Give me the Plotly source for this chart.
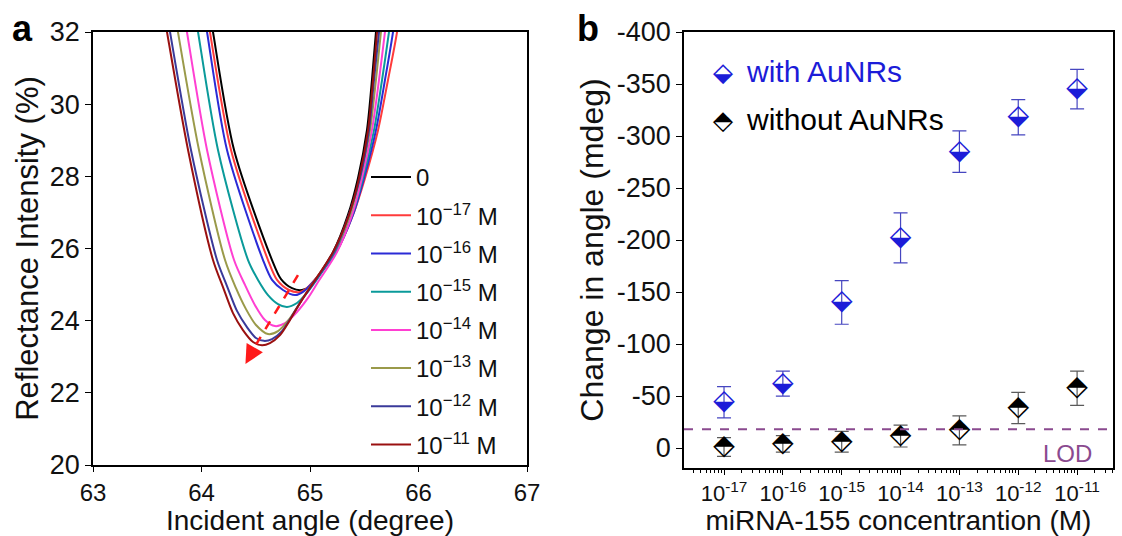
import plotly.graph_objects as go

# ---------------- Panel a data: SPR reflectance curves (angle in degree, reflectance in %) ----------------
series_names = ["0", "10<sup>−17</sup> M", "10<sup>−16</sup> M", "10<sup>−15</sup> M",
                "10<sup>−14</sup> M", "10<sup>−13</sup> M", "10<sup>−12</sup> M", "10<sup>−11</sup> M"]
series_colors = ["#000000", "#ff3b3b", "#2b2bd6", "#0a9a9a", "#ff3fd2", "#9a9a4a", "#3a3a9a", "#9a1010"]

ang_0 = [64.078, 64.106, 64.300, 64.650, 64.733, 64.834, 64.926, 65.000,
         65.212, 65.350, 65.442, 65.525, 65.571, 65.608, 65.627]
ref_0 = [32.50, 32.00, 28.73, 25.68, 25.15, 24.90, 24.85, 24.96,
         25.90, 26.93, 27.95, 29.28, 30.67, 32.00, 32.50]

ang_17 = [64.051, 64.078, 64.272, 64.613, 64.696, 64.806, 64.899, 64.963,
          65.240, 65.396, 65.507, 65.627, 65.719, 65.802, 65.820]
ref_17 = [32.50, 32.00, 28.73, 25.68, 25.13, 24.85, 24.79, 24.88,
          25.90, 26.93, 27.95, 29.28, 30.67, 32.00, 32.50]

ang_16 = [64.023, 64.051, 64.235, 64.567, 64.650, 64.751, 64.862, 64.945,
          65.240, 65.396, 65.498, 65.608, 65.691, 65.765, 65.783]
ref_16 = [32.50, 32.00, 28.73, 25.68, 25.13, 24.85, 24.71, 24.82,
          25.90, 26.93, 27.95, 29.28, 30.67, 32.00, 32.50]

ang_15 = [63.940, 63.968, 64.152, 64.429, 64.521, 64.613, 64.705, 64.788, 64.880, 64.963,
          65.230, 65.387, 65.488, 65.590, 65.664, 65.728, 65.747]
ref_15 = [32.50, 32.00, 28.73, 25.68, 25.13, 24.71, 24.46, 24.38, 24.49, 24.74,
          25.90, 26.93, 27.95, 29.28, 30.67, 32.00, 32.50]

ang_14 = [63.839, 63.866, 64.051, 64.300, 64.401, 64.493, 64.585, 64.677, 64.770, 64.880, 64.982, 65.074,
          65.249, 65.387, 65.479, 65.571, 65.636, 65.691, 65.710]
ref_14 = [32.50, 32.00, 28.73, 25.68, 24.99, 24.43, 24.02, 23.85, 23.93, 24.24, 24.63, 25.07,
          25.90, 26.93, 27.95, 29.28, 30.67, 32.00, 32.50]

ang_13 = [63.756, 63.783, 63.977, 64.217, 64.318, 64.410, 64.502, 64.613, 64.705, 64.816, 64.908, 64.982,
          65.221, 65.369, 65.461, 65.553, 65.608, 65.654, 65.673]
ref_13 = [32.50, 32.00, 28.73, 25.68, 24.90, 24.32, 23.88, 23.63, 23.71, 24.07, 24.49, 24.85,
          25.90, 26.93, 27.95, 29.28, 30.67, 32.00, 32.50]

ang_12 = [63.682, 63.710, 63.903, 64.143, 64.235, 64.327, 64.419, 64.502, 64.576, 64.650, 64.742, 64.834,
          64.917, 64.982, 65.221, 65.359, 65.461, 65.544, 65.590, 65.636, 65.654]
ref_12 = [32.50, 32.00, 28.73, 25.68, 24.96, 24.27, 23.82, 23.52, 23.44, 23.49, 23.71, 24.13,
          24.54, 24.82, 25.90, 26.93, 27.95, 29.28, 30.67, 32.00, 32.50]

ang_11 = [63.654, 63.682, 63.876, 64.106, 64.198, 64.290, 64.382, 64.475, 64.558, 64.631, 64.724, 64.816,
          64.908, 64.972, 65.212, 65.359, 65.452, 65.535, 65.581, 65.618, 65.636]
ref_11 = [32.50, 32.00, 28.73, 25.68, 24.93, 24.21, 23.74, 23.41, 23.32, 23.38, 23.60, 24.02,
          24.49, 24.79, 25.90, 26.93, 27.95, 29.28, 30.67, 32.00, 32.50]

curve_angles = [ang_0, ang_17, ang_16, ang_15, ang_14, ang_13, ang_12, ang_11]
curve_refl = [ref_0, ref_17, ref_16, ref_15, ref_14, ref_13, ref_12, ref_11]

# red dashed trend arrow (angle, reflectance)
arrow_start = (64.889, 25.26)
arrow_dash_end = (64.505, 23.35)
arrow_tip = (64.405, 22.80)

# ---------------- Panel b data: change in angle (mdeg) ----------------
conc = [1e-17, 1e-16, 1e-15, 1e-14, 1e-13, 1e-12, 1e-11]
with_aunrs = [-44, -62, -140, -202, -285, -318, -345]
with_err = [15, 12, 21, 24, 20, 17, 19]
without_aunrs = [-1, -4, -6, -11.5, -17, -38.5, -57.5]
without_err = [9, 8, 10, 10.5, 14, 15, 16.5]
lod_value = -18

a_xticks = [63, 64, 65, 66, 67]
a_yticks = [20, 22, 24, 26, 28, 30, 32]
b_yticks = [-400, -350, -300, -250, -200, -150, -100, -50, 0]
b_yticktext = ["-400", "-350", "-300", "-250", "-200", "-150", "-100", "-50", "0"]
b_xtickvals = conc
b_xticktext = ["10<sup>-17</sup>", "10<sup>-16</sup>", "10<sup>-15</sup>", "10<sup>-14</sup>",
               "10<sup>-13</sup>", "10<sup>-12</sup>", "10<sup>-11</sup>"]
b_minor = [k * 10.0 ** e for e in range(-18, -10) for k in range(2, 10)]

FONT = "Liberation Sans, Arial, Helvetica, sans-serif"
W, H = 1122, 536
BLUE = "#1c1cd8"
PURPLE = "#8a4a8f"

fig = go.Figure()

for i, (xs, ys) in enumerate(zip(curve_angles, curve_refl)):
    fig.add_trace(go.Scatter(
        x=xs, y=ys, mode="lines", name=series_names[i],
        line=dict(color=series_colors[i], width=2, shape="spline", smoothing=0.8),
        legendgroup=f"g{i}", xaxis="x", yaxis="y", showlegend=True,
    ))

# Panel b: error bars + half-filled diamond glyphs
fig.add_trace(go.Scatter(
    x=conc, y=with_aunrs, mode="text", text=["⬙"] * len(conc),
    textfont=dict(color=BLUE, size=28, family="DejaVu Sans"),
    textposition="middle center",
    error_y=dict(type="data", array=with_err, visible=True, color="#4646c0", thickness=1.2, width=7),
    xaxis="x2", yaxis="y2", showlegend=False,
))
fig.add_trace(go.Scatter(
    x=conc, y=without_aunrs, mode="text", text=["⬘"] * len(conc),
    textfont=dict(color="#000000", size=28, family="DejaVu Sans"),
    textposition="middle center",
    error_y=dict(type="data", array=without_err, visible=True, color="#5a5a5a", thickness=1.2, width=7),
    xaxis="x2", yaxis="y2", showlegend=False,
))

def ax_common(tick_size, ticklen=6):
    return dict(showline=True, linecolor="black", linewidth=1.5, mirror=True,
                ticks="outside", ticklen=ticklen, tickwidth=1.2, tickcolor="black",
                showgrid=False, zeroline=False, automargin=False,
                tickfont=dict(family=FONT, size=tick_size, color="#111"))

def label(text, x, y, size, color="black", family=FONT, xanchor="center"):
    return dict(text=text, x=x / W, y=1 - y / H, xref="paper", yref="paper", showarrow=False,
                xanchor=xanchor, yanchor="middle", font=dict(size=size, family=family, color=color))

fig.update_layout(
    width=W, height=H,
    margin=dict(l=0, r=0, t=0, b=0, autoexpand=False),
    paper_bgcolor="white", plot_bgcolor="white",
    font=dict(family=FONT, color="#111"),
    xaxis=dict(domain=[93 / W, 527 / W], range=[63, 67], tickvals=a_xticks, anchor="y",
               title=dict(text="Incident angle (degree)", font=dict(size=28, family=FONT), standoff=6),
               **ax_common(24, 5)),
    yaxis=dict(domain=[1 - 465 / H, 1 - 32 / H], range=[20, 32], tickvals=a_yticks, anchor="x",
               title=dict(text="Reflectance Intensity (%)", font=dict(size=31, family=FONT), standoff=2),
               **ax_common(27)),
    xaxis2=dict(domain=[684 / W, 1113 / W], type="log", range=[-17.68, -10.39],
                tickvals=b_xtickvals, ticktext=b_xticktext, anchor="y2",
                minor=dict(tickvals=b_minor, ticks="outside", ticklen=3.5, tickwidth=1, tickcolor="black"),
                title=dict(text="miRNA-155 concentrantion (M)", font=dict(size=28, family=FONT), standoff=6),
                **ax_common(22, 5)),
    yaxis2=dict(domain=[1 - 468 / H, 1 - 32 / H], range=[19.2, -400], tickvals=b_yticks,
                ticktext=b_yticktext, anchor="x2",
                title=dict(text="Change in angle (mdeg)", font=dict(size=32, family=FONT), standoff=4),
                **ax_common(27)),
    legend=dict(x=366 / W, y=1 - 155 / H, xanchor="left", yanchor="top",
                bgcolor="rgba(0,0,0,0)", borderwidth=0,
                font=dict(size=24, family=FONT, color="#111"),
                traceorder="grouped", tracegroupgap=4, itemwidth=40),
    shapes=[
        dict(type="line", xref="x2 domain", yref="y2", x0=0, x1=1, y0=lod_value, y1=lod_value,
             line=dict(color=PURPLE, width=2, dash="dash")),
        dict(type="line", xref="x", yref="y", x0=arrow_start[0], y0=arrow_start[1],
             x1=arrow_dash_end[0], y1=arrow_dash_end[1],
             line=dict(color="#ff1a1a", width=2.5, dash="dash")),
    ],
    annotations=[
        dict(x=arrow_tip[0], y=arrow_tip[1], xref="x", yref="y", ax=8, ay=-14,
             showarrow=True, arrowhead=2, arrowsize=1.5, arrowwidth=2.5, arrowcolor="#ff1a1a", text=""),
        label("<b>a</b>", 22, 29, 36),
        label("<b>b</b>", 588, 29, 36),
        dict(text="LOD", x=0.955, y=-10, xref="x2 domain", yref="y2", xanchor="right", yanchor="top",
             showarrow=False, font=dict(size=24, family=FONT, color=PURPLE)),
        label("⬙", 723, 72, 26, BLUE, "DejaVu Sans"),
        label("with AuNRs", 744, 72, 30, BLUE, FONT, "left"),
        label("⬘", 723, 120, 26, "#000000", "DejaVu Sans"),
        label("without AuNRs", 744, 120, 30, "#000000", FONT, "left"),
    ],
)

fig.write_html("out.html")
